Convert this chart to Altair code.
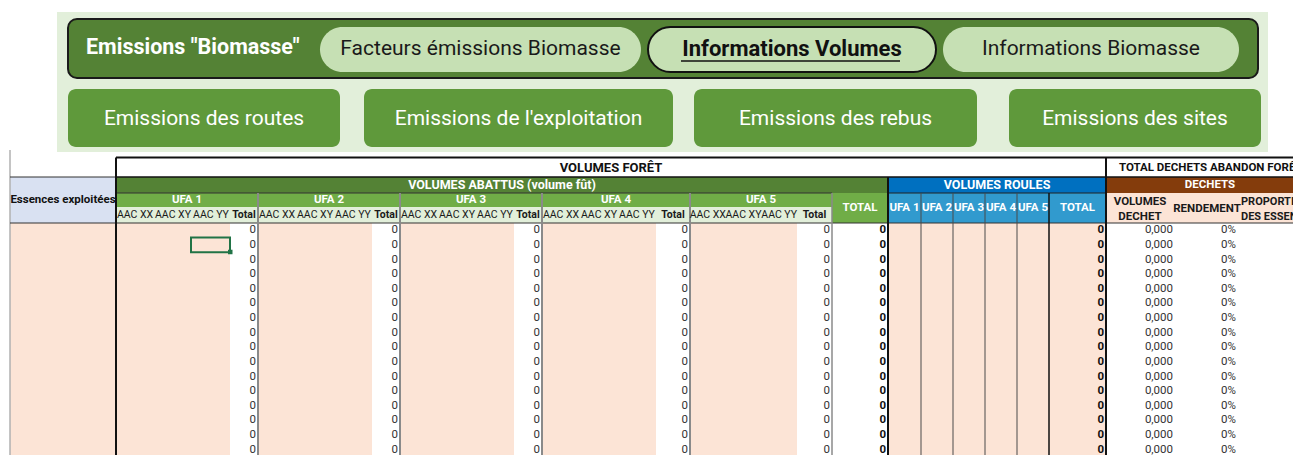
import altair as alt
import pandas as pd

# ---------------- data (texts and values) ----------------
nav_title = 'Emissions "Biomasse"'
nav_tabs = ["Facteurs émissions Biomasse", "Informations Volumes", "Informations Biomasse"]
nav_active = "Informations Volumes"
nav_buttons = ["Emissions des routes", "Emissions de l'exploitation", "Emissions des rebus", "Emissions des sites"]

title_foret = "VOLUMES FORÊT"
title_dechets = "TOTAL DECHETS ABANDON FORÊT"
title_abattus = "VOLUMES ABATTUS (volume fût)"
title_roules = "VOLUMES ROULES"
title_dechets_sub = "DECHETS"
title_essences = "Essences exploitées"
title_total = "TOTAL"

ufa_names = ["UFA 1", "UFA 2", "UFA 3", "UFA 4", "UFA 5"]
aac_labels = ["AAC XX", "AAC XY", "AAC YY", "Total"]
roules_labels = ["UFA 1", "UFA 2", "UFA 3", "UFA 4", "UFA 5", "TOTAL"]
dechet_labels = ["VOLUMES\nDECHET", "RENDEMENT", "PROPORTION\nDES ESSENCES"]

ufa1_total = [0, 0, 0, 0, 0, 0, 0, 0, 0, 0, 0, 0, 0, 0, 0, 0]
ufa2_total = [0, 0, 0, 0, 0, 0, 0, 0, 0, 0, 0, 0, 0, 0, 0, 0]
ufa3_total = [0, 0, 0, 0, 0, 0, 0, 0, 0, 0, 0, 0, 0, 0, 0, 0]
ufa4_total = [0, 0, 0, 0, 0, 0, 0, 0, 0, 0, 0, 0, 0, 0, 0, 0]
ufa5_total = [0, 0, 0, 0, 0, 0, 0, 0, 0, 0, 0, 0, 0, 0, 0, 0]
abattus_total = [0, 0, 0, 0, 0, 0, 0, 0, 0, 0, 0, 0, 0, 0, 0, 0]
roules_total = [0, 0, 0, 0, 0, 0, 0, 0, 0, 0, 0, 0, 0, 0, 0, 0]
volumes_dechet = [0.0, 0.0, 0.0, 0.0, 0.0, 0.0, 0.0, 0.0, 0.0, 0.0, 0.0, 0.0, 0.0, 0.0, 0.0, 0.0]
rendement = [0.0, 0.0, 0.0, 0.0, 0.0, 0.0, 0.0, 0.0, 0.0, 0.0, 0.0, 0.0, 0.0, 0.0, 0.0, 0.0]
proportion = [0, 0, 0, 0, 0, 0, 0, 0, 0, 0, 0, 0, 0, 0, 0, 0]
ufa_totals = [ufa1_total, ufa2_total, ufa3_total, ufa4_total, ufa5_total]

# ---------------- layout (page pixels) ----------------
W, H = 1285, 447
OX, OY = 8, 8
FONT = "Liberation Sans Narrow, Arial Narrow, Roboto, sans-serif"

tab_x = [(320, 641), (648, 936), (943, 1239)]
btn_x = [(68, 340), (364, 673), (694, 977), (1009, 1261)]
ufa_edges = [116, 258, 400, 542, 690, 832]
ufa_pink_end = [230, 372, 514, 656, 797]
roules_edges = [888, 921, 953, 985, 1017, 1049, 1106]
dechet_x = [1140, 1207, 1241]
Y0, Y1, Y2, Y3, Y4, YB = 157.5, 177, 193, 207, 223, 470
RH = 14.62

PINK = "#fce4d6"
XS = alt.Scale(domain=[OX, OX + W], range=[0, W], zero=False, nice=False)
YS = alt.Scale(domain=[OY, OY + H], range=[0, H], zero=False, nice=False)


def rect_layer(rows, radius=0):
    df = pd.DataFrame(rows, columns=["x", "x2", "y", "y2", "fill", "stroke", "sw"])
    return alt.Chart(df).mark_rect(cornerRadius=radius, clip=True).encode(
        x=alt.X("x:Q", scale=XS, axis=None), x2="x2:Q",
        y=alt.Y("y:Q", scale=YS, axis=None), y2="y2:Q",
        fill=alt.Fill("fill:N", scale=None),
        stroke=alt.Stroke("stroke:N", scale=None),
        strokeWidth=alt.StrokeWidth("sw:Q", scale=None),
    )


def rule_layer(rows):
    df = pd.DataFrame(rows, columns=["x", "x2", "y", "y2", "c", "w"])
    return alt.Chart(df).mark_rule(clip=True).encode(
        x=alt.X("x:Q", scale=XS, axis=None), x2="x2:Q",
        y=alt.Y("y:Q", scale=YS, axis=None), y2="y2:Q",
        color=alt.Color("c:N", scale=None),
        strokeWidth=alt.StrokeWidth("w:Q", scale=None),
    )


def text_layer(rows, size, weight="normal", align="center", expr=None):
    df = pd.DataFrame(rows, columns=["x", "y", "t", "c"])
    base = alt.Chart(df)
    field = "t:N"
    if expr is not None:
        base = base.transform_calculate(lab=expr)
        field = "lab:N"
    return base.mark_text(fontSize=size, fontWeight=weight, align=align, baseline="middle",
                          font=FONT, clip=True).encode(
        x=alt.X("x:Q", scale=XS, axis=None),
        y=alt.Y("y:Q", scale=YS, axis=None),
        text=alt.Text(field),
        color=alt.Color("c:N", scale=None),
    )


layers = []

# ---------------- navigation banner ----------------
layers.append(rect_layer([(57, 1268, 12, 152, "#e2efda", "transparent", 0)]))
layers.append(rect_layer([(68, 1258, 19, 78, "#548235", "#1a1a1a", 2)], radius=9))
tab_rows = []
for (a, b), name in zip(tab_x, nav_tabs):
    tab_rows.append((a, b, 27, 72, "#c6e0b4", "#111111" if name == nav_active else "transparent",
                     2 if name == nav_active else 0))
layers.append(rect_layer(tab_rows, radius=23))
layers.append(rect_layer([(a, b, 89, 147, "#5f993b", "transparent", 0) for a, b in btn_x], radius=8))

layers.append(text_layer([(86, 48, nav_title, "white")], 21.5, "bold", "left"))
layers.append(text_layer([((a + b) / 2, 49, n, "#1a1a1a") for (a, b), n in zip(tab_x, nav_tabs) if n != nav_active], 21))
layers.append(text_layer([((a + b) / 2, 49, n, "#111111") for (a, b), n in zip(tab_x, nav_tabs) if n == nav_active], 22, "bold"))
layers.append(rule_layer([(681, 900, 61, 61, "#111111", 1.5)]))
layers.append(text_layer([((a + b) / 2, 119, n, "white") for (a, b), n in zip(btn_x, nav_buttons)], 21))

# ---------------- table background cells ----------------
cells = [
    (10, 116, Y0, Y1, "white", "transparent", 0),
    (10, 116, Y1, Y4, "#d9e1f2", "transparent", 0),
    (10, 116, Y4, YB, PINK, "transparent", 0),
    (116, 1330, Y0, Y1, "white", "transparent", 0),
    (116, 888, Y1, Y2, "#548235", "transparent", 0),
    (888, 1106, Y1, Y2, "#0070c0", "transparent", 0),
    (1106, 1330, Y1, Y2, "#843c0c", "transparent", 0),
    (832, 888, Y2, Y4, "#70ad47", "transparent", 0),
    (888, 1106, Y2, Y4, "#319ace", "transparent", 0),
    (1106, 1330, Y2, Y4, PINK, "transparent", 0),
    (832, 888, Y4, YB, "white", "transparent", 0),
    (888, 1106, Y4, YB, PINK, "transparent", 0),
    (1106, 1330, Y4, YB, "white", "transparent", 0),
]
for i in range(5):
    a, b, p = ufa_edges[i], ufa_edges[i + 1], ufa_pink_end[i]
    cells += [
        (a, b, Y2, Y3, "#70ad47", "transparent", 0),
        (a, b, Y3, Y4, "#e2efda", "transparent", 0),
        (a, p, Y4, YB, PINK, "transparent", 0),
        (p, b, Y4, YB, "white", "transparent", 0),
    ]
layers.append(rect_layer(cells))

# ---------------- borders ----------------
lines = [
    (10, 10, 150, YB, "#b0b0b0", 1.5),
    (10, 116, Y1, Y1, "#333333", 1.2),
    (116, 1330, Y0, Y0, "#111111", 2),
    (116, 1330, Y1, Y1, "#111111", 1.5),
    (116, 832, Y2, Y2, "#333333", 1.2),
    (888, 1106, Y2, Y2, "#222222", 1.2),
    (10, 1330, Y4, Y4, "#333333", 1.2),
    (832, 832, Y2, YB, "#8a8a8a", 1.5),
    (888, 888, Y1, YB, "#111111", 2),
    (1049, 1049, Y2, YB, "#111111", 1.5),
    (116, 116, Y0, YB, "#111111", 2),
    (1106, 1106, Y0, YB, "#111111", 2),
]
for e in ufa_edges[1:-1]:
    lines.append((e, e, Y2, YB, "#8a8a8a", 2))
for e in roules_edges[1:-2]:
    lines.append((e, e, Y2, YB, "#4a4a4a", 1))
layers.append(rule_layer(lines))

# selected cell (Excel cursor)
layers.append(rect_layer([(191, 230, Y4 + RH, Y4 + 2 * RH, "transparent", "#217346", 2)]))
layers.append(rect_layer([(228, 232.5, Y4 + 2 * RH - 2.5, Y4 + 2 * RH + 2, "#217346", "transparent", 0)]))

# ---------------- header texts ----------------
layers.append(text_layer([(611, 168, title_foret, "#111111")], 13, "bold"))
layers.append(text_layer([(1119, 168, title_dechets, "#111111")], 11.5, "bold", "left"))
layers.append(text_layer([
    (502, 185, title_abattus, "white"),
    (997, 185, title_roules, "white"),
], 12.5, "bold"))
layers.append(text_layer([(1210, 185, title_dechets_sub, "white")], 11.5, "bold"))
layers.append(text_layer([(63, 200, title_essences, "#111111")], 11.5, "bold"))

ufa_head = [((ufa_edges[i] + ufa_edges[i + 1]) / 2, 200, n, "white") for i, n in enumerate(ufa_names)]
ufa_head.append((860, 208, title_total, "white"))
for i, n in enumerate(roules_labels):
    ufa_head.append(((roules_edges[i] + roules_edges[i + 1]) / 2, 208, n, "white"))
layers.append(text_layer(ufa_head, 11.5, "bold"))

dech_center, dech_left = [], []
for x, n in zip(dechet_x, dechet_labels):
    parts = n.split("\n")
    ys = [209] if len(parts) == 1 else [201.5, 216.5]
    for yy, part in zip(ys, parts):
        if n.startswith("PROPORTION"):
            dech_left.append((x, yy, part, "#1a1a1a"))
        else:
            dech_center.append((x, yy, part, "#1a1a1a"))
layers.append(text_layer(dech_center, 11.5, "bold"))
layers.append(text_layer(dech_left, 11, "bold", "left"))

aac_rows, aac_bold = [], []
for i in range(5):
    a, p, b = ufa_edges[i], ufa_pink_end[i], ufa_edges[i + 1]
    sw = (p - a) / 3
    for k in range(3):
        aac_rows.append((a + sw * (k + 0.5), 215, aac_labels[k], "#1a1a1a"))
    aac_bold.append(((p + b) / 2, 215, aac_labels[3], "#1a1a1a"))
layers.append(text_layer(aac_rows, 10.5))
layers.append(text_layer(aac_bold, 10.5, "bold"))

# ---------------- data texts ----------------
def ycen(i):
    return Y4 + RH * (i + 0.5)

plain, bold, dech, rend, prop = [], [], [], [], []
for r in range(16):
    for i in range(5):
        plain.append((ufa_edges[i + 1] - 2, ycen(r), str(ufa_totals[i][r]), "#333333"))
    bold.append((886, ycen(r), str(abattus_total[r]), "#111111"))
    bold.append((1104, ycen(r), str(roules_total[r]), "#111111"))
    dech.append((1173, ycen(r), volumes_dechet[r], "#333333"))
    rend.append((1236, ycen(r), rendement[r], "#333333"))
    prop.append((1297, ycen(r), str(proportion[r]), "#333333"))
layers.append(text_layer(plain, 11.5, "normal", "right"))
layers.append(text_layer(bold, 11.5, "bold", "right"))
layers.append(text_layer(dech, 11.5, "normal", "right", expr="replace(format(datum.t, '.3f'), '.', ',')"))
layers.append(text_layer(rend, 11.5, "normal", "right", expr="format(datum.t, '.0%')"))
layers.append(text_layer(prop, 11.5, "normal", "left"))

chart = alt.layer(*layers).properties(
    width=W, height=H, padding=0, autosize=alt.AutoSizeParams(type="none")
).configure_view(stroke=None)

chart.save("out.html", embed_options={"renderer": "svg", "actions": False})
